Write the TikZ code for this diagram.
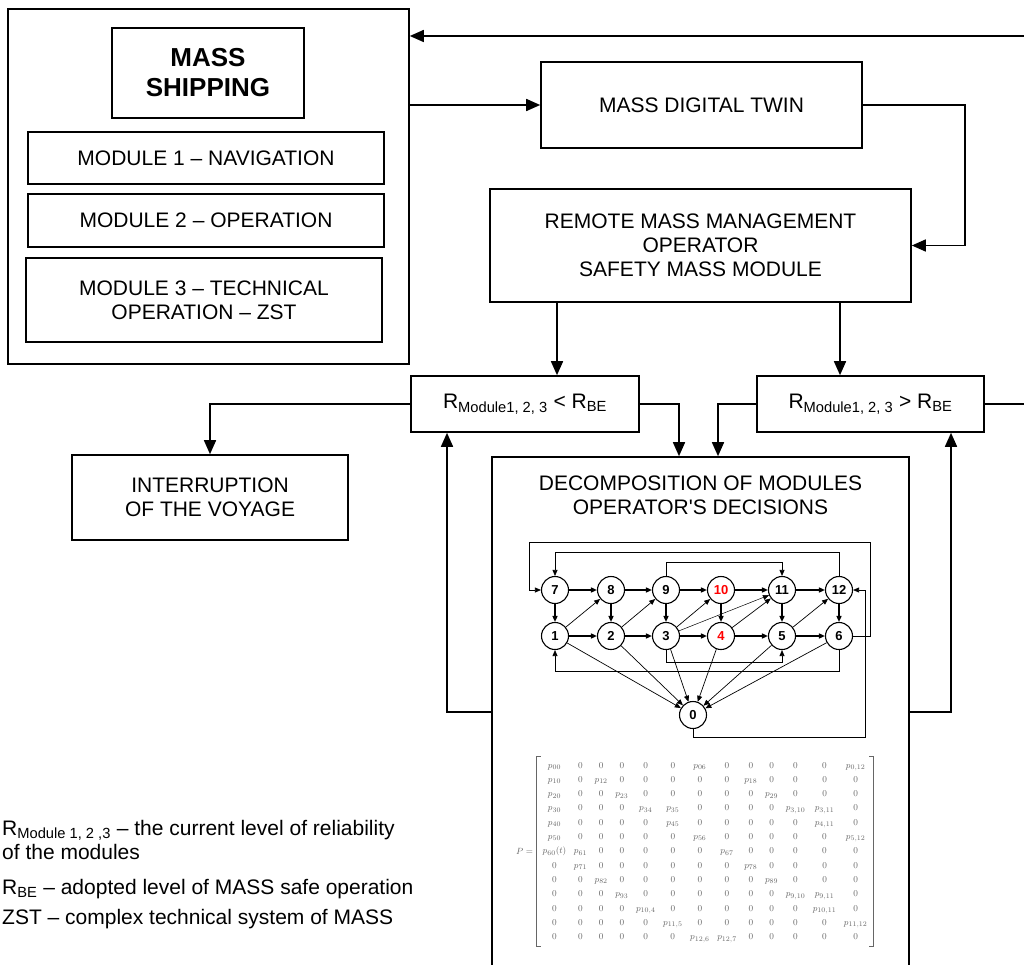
\documentclass[tikz,border=0pt]{standalone}
\usepackage{fontspec}
\setmainfont{Liberation Sans}
\usepackage{amsmath}
\usetikzlibrary{arrows.meta, positioning, calc}

\begin{document}
\begin{tikzpicture}[
    x=1pt, y=-1pt,
    box/.style={draw=black, line width=1.6pt, inner sep=2pt, align=center},
    arr/.style={-{Triangle[length=14pt,width=12pt]}, line width=1.6pt},
    vtx/.style={circle, draw=black, fill=white, line width=1.1pt, minimum size=27pt, inner sep=0pt, font=\fontsize{13}{13}\selectfont\bfseries},
    garr/.style={-{Triangle[length=6pt,width=5pt]}, line width=1.4pt},
    gthin/.style={-{Triangle[length=6pt,width=5pt]}, line width=0.7pt},
    faded/.style={text=black!60, font=\fontsize{9.5}{11}\selectfont},
    font=\fontsize{21}{24}\selectfont
]
\useasboundingbox (0,0) rectangle (1024,965);
\clip (0,0) rectangle (1024,965);

% MASS shipping block
\node[box, minimum width=401pt, minimum height=355pt] (outer) at (208.5,186.5) {};
\node[box, minimum width=192pt, minimum height=90pt, font=\fontsize{26}{30}\selectfont\bfseries] (ship) at (208,73) {MASS\\SHIPPING};
\node[box, minimum width=356pt, minimum height=52pt] (mod1) at (206,158) {MODULE 1 -- NAVIGATION};
\node[box, minimum width=356pt, minimum height=53pt] (mod2) at (206,220.5) {MODULE 2 -- OPERATION};
\node[box, minimum width=356pt, minimum height=84pt] (mod3) at (204,300) {MODULE 3 -- TECHNICAL\\OPERATION -- ZST};

% twin and operator
\node[box, minimum width=321pt, minimum height=86pt] (twin) at (701.5,105) {MASS DIGITAL TWIN};
\node[box, minimum width=421pt, minimum height=113pt] (remote) at (700.5,245.5) {REMOTE MASS MANAGEMENT\\OPERATOR\\SAFETY MASS MODULE};

% reliability checks
\node[box, minimum width=228pt, minimum height=56pt] (rlow) at (525,404) {R\textsubscript{Module1, 2, 3} < R\textsubscript{BE}};
\node[box, minimum width=227pt, minimum height=56pt] (rhigh) at (870.5,404) {R\textsubscript{Module1, 2, 3} > R\textsubscript{BE}};
\node[box, minimum width=276pt, minimum height=85pt] (stop) at (210,497.5) {INTERRUPTION\\OF THE VOYAGE};

% decomposition
\node[box, minimum width=417pt, minimum height=510pt] (decomp) at (700.5,712) {};
\node[align=center] (dtitle) at (700.5,495) {DECOMPOSITION OF MODULES\\OPERATOR\textquotesingle S DECISIONS};

% connectors
\draw[arr] (outer.east |- twin.west) -- (twin.west);
\draw[arr] (twin.east) -- (965,105) |- (remote.east);
\draw[arr] ([xshift=32pt]rlow.north |- remote.south) -- ([xshift=32pt]rlow.north);
\draw[arr] ([xshift=-30.5pt]rhigh.north |- remote.south) -- ([xshift=-30.5pt]rhigh.north);
\draw[arr] (rlow.west) -| (stop.north);
\draw[arr] (rlow.east) -| ([xshift=-21.5pt]decomp.north);
\draw[arr] (rhigh.west) -| ([xshift=17.5pt]decomp.north);
\draw[arr] (decomp.west) -| ([xshift=-78pt]rlow.south);
\draw[arr] (decomp.east) -| ([xshift=80.5pt]rhigh.south);
\draw[arr] (rhigh.east) -- (1035,404) |- ([yshift=150.5pt]outer.east);

% state graph
\node[vtx] (n7) at (555,590) {7};
\node[vtx] (n8) at (611,590) {8};
\node[vtx] (n9) at (666,590) {9};
\node[vtx, text=red] (n10) at (721,590) {10};
\node[vtx] (n11) at (782,590) {11};
\node[vtx] (n12) at (839,590) {12};
\node[vtx] (n1) at (555,636) {1};
\node[vtx] (n2) at (611,636) {2};
\node[vtx] (n3) at (666,636) {3};
\node[vtx, text=red] (n4) at (721,636) {4};
\node[vtx] (n5) at (782,636) {5};
\node[vtx] (n6) at (839,636) {6};
\node[vtx] (n0) at (693,715) {0};

\draw[garr] (n7) -- (n8);
\draw[garr] (n8) -- (n9);
\draw[garr] (n9) -- (n10);
\draw[garr] (n10) -- (n11);
\draw[garr] (n11) -- (n12);
\draw[garr] (n1) -- (n2);
\draw[garr] (n2) -- (n3);
\draw[garr] (n3) -- (n4);
\draw[garr] (n4) -- (n5);
\draw[garr] (n5) -- (n6);
\draw[garr] (n7) -- (n1);
\draw[garr] (n8) -- (n2);
\draw[garr] (n9) -- (n3);
\draw[garr] (n10) -- (n4);
\draw[garr] (n11) -- (n5);
\draw[garr] (n12) -- (n6);

\draw[gthin] (n1) -- (n8);
\draw[gthin] (n2) -- (n9);
\draw[gthin] (n3) -- (n10);
\draw[gthin, line width=0.5pt] (n3) -- (n11);
\draw[gthin] (n4) -- (n11);
\draw[gthin] (n5) -- (n12);

\draw[gthin] (n1) -- (n0);
\draw[gthin] (n2) -- (n0);
\draw[gthin] (n3) -- (n0);
\draw[gthin] (n4) -- (n0);
\draw[gthin] (n5) -- (n0);
\draw[gthin] (n6) -- (n0);

\draw[gthin] (n6.east) -| (870,542) -| ([xshift=-12pt]n7.west) -- (n7.west);
\draw[gthin] (n12.north) -- ++(0,-24) -| (n7.north);
\draw[gthin] (n9.north) -- ++(0,-14) -| (n11.north);
\draw[gthin] (n3.south) -- ++(0,12.5) -| (n5.south);
\draw[gthin] (n6.south) -- ++(0,21.5) -| (n1.south);
\draw[gthin] (n0.south) |- (865,737) |- (n12.east);

% transition matrix
\node[faded, inner sep=2pt] (pmat) at (705,851) {%
\setlength\arraycolsep{3.8pt}\renewcommand\arraystretch{1.3}%
$\begin{array}{*{13}{c}}
p_{00}&0&0&0&0&0&p_{06}&0&0&0&0&0&p_{0,12}\\
p_{10}&0&p_{12}&0&0&0&0&0&p_{18}&0&0&0&0\\
p_{20}&0&0&p_{23}&0&0&0&0&0&p_{29}&0&0&0\\
p_{30}&0&0&0&p_{34}&p_{35}&0&0&0&0&p_{3,10}&p_{3,11}&0\\
p_{40}&0&0&0&0&p_{45}&0&0&0&0&0&p_{4,11}&0\\
p_{50}&0&0&0&0&0&p_{56}&0&0&0&0&0&p_{5,12}\\
p_{60}(t)&p_{61}&0&0&0&0&0&p_{67}&0&0&0&0&0\\
0&p_{71}&0&0&0&0&0&0&p_{78}&0&0&0&0\\
0&0&p_{82}&0&0&0&0&0&0&p_{89}&0&0&0\\
0&0&0&p_{93}&0&0&0&0&0&0&p_{9,10}&p_{9,11}&0\\
0&0&0&0&p_{10,4}&0&0&0&0&0&0&p_{10,11}&0\\
0&0&0&0&0&p_{11,5}&0&0&0&0&0&0&p_{11,12}\\
0&0&0&0&0&0&p_{12,6}&p_{12,7}&0&0&0&0&0
\end{array}$};
\node[faded, left=0pt of pmat] (peq) {$P=$};
\draw[black!60, line width=0.6pt] ([xshift=4pt]pmat.north west) -- (pmat.north west) -- (pmat.south west) -- ([xshift=4pt]pmat.south west);
\draw[black!60, line width=0.6pt] ([xshift=-4pt]pmat.north east) -- (pmat.north east) -- (pmat.south east) -- ([xshift=-4pt]pmat.south east);

% legend
\node[anchor=north west, inner sep=0pt, align=left, font=\fontsize{21}{24}\selectfont] (leg1) at (2,820) {R\textsubscript{Module 1, 2 ,3} -- the current level of reliability\\of the modules};
\node[anchor=base west, inner sep=0pt] (leg2) at (2,894) {R\textsubscript{BE} -- adopted level of MASS safe operation};
\node[anchor=base west, inner sep=0pt] (leg3) at (2,924) {ZST -- complex technical system of MASS};

\end{tikzpicture}
\end{document}
